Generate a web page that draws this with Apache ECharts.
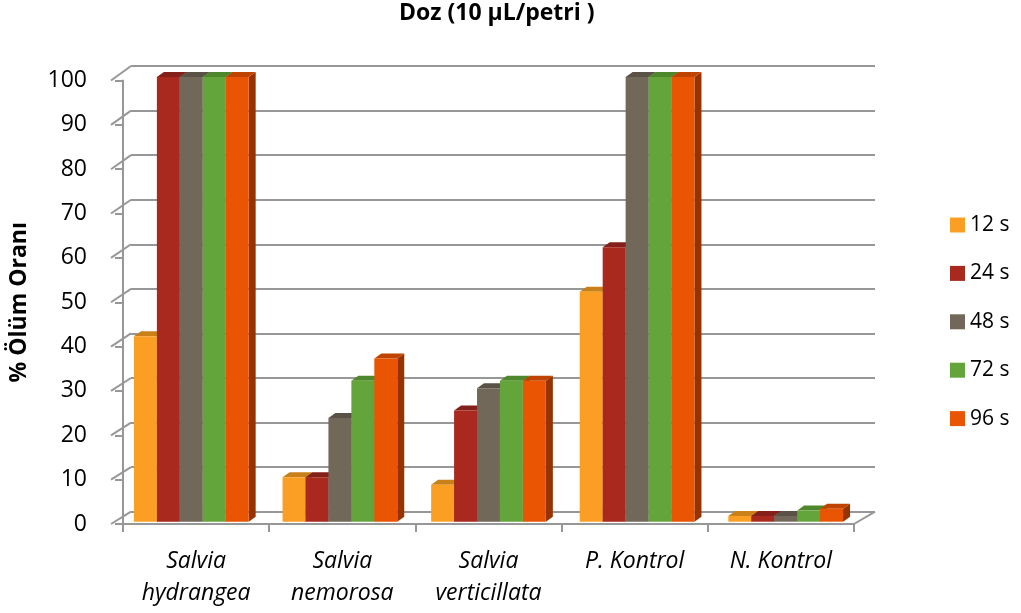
<!DOCTYPE html>
<html><head><meta charset="utf-8">
<script src="https://cdn.jsdelivr.net/npm/echarts@6/dist/echarts.min.js"></script>
<style>html,body{margin:0;padding:0;background:#fff}#c{width:1021px;height:613px}</style>
</head><body><div id="c"></div>
<script>
// ---- data ----
const categories = ['Salvia\nhydrangea', 'Salvia\nnemorosa', 'Salvia\nverticillata', 'P. Kontrol', 'N. Kontrol'];
const seriesNames = ['12 s', '24 s', '48 s', '72 s', '96 s'];
const s12 = [41.7, 10, 8.3, 51.7, 1.3];
const s24 = [100, 10, 25, 61.7, 1.3];
const s48 = [100, 23.3, 30, 100, 1.3];
const s72 = [100, 31.7, 31.7, 100, 2.5];
const s96 = [100, 36.7, 31.7, 100, 2.9];
const yTicks = [0, 10, 20, 30, 40, 50, 60, 70, 80, 90, 100];

// ---- style / layout ----
const FRONT_COL = ['#FB9F24', '#A9291F', '#72685A', '#64A53B', '#EA5504'];
const TOP_COL = ['#C98019', '#84201A', '#5A5147', '#4F882C', '#BF4402'];
const SIDE_COL = ['#B87418', '#7A1C15', '#4F473D', '#467A28', '#963300'];
const GRID_FRONT = {left: 111, top: 80.5, width: 743, height: 443.5};
const GRID_BAR = {left: 117, top: 77, width: 743, height: 444.7};
const GRID_BACK = {left: 131, top: 66, width: 744, height: 445.7};
const GROUP_RATIO = 0.772, DX = 7, DY = -5;
const LINE = {color: '#979797', width: 2};
const FONT = '"Open Sans", Lato, sans-serif';

const allSeries = [s12, s24, s48, s72, s96];

function makeRender(idx) {
  return function (params, api) {
    const cat = api.value(0), v = api.value(1);
    const base = api.coord([cat, 0]);
    const top = api.coord([cat, v]);
    const band = api.size([1, 0])[0];
    const group = band * GROUP_RATIO;
    const w = group / allSeries.length;
    const x0 = base[0] - group / 2 + idx * w;
    const yT = top[1], yB = base[1];
    return {
      type: 'group',
      children: [
        {type: 'polygon', shape: {points: [[x0 + w, yT], [x0 + w + DX, yT + DY], [x0 + w + DX, yB + DY], [x0 + w, yB]]}, style: {fill: SIDE_COL[idx]}},
        {type: 'polygon', shape: {points: [[x0, yT], [x0 + DX, yT + DY], [x0 + w + DX, yT + DY], [x0 + w, yT]]}, style: {fill: TOP_COL[idx]}},
        {type: 'rect', shape: {x: x0, y: yT, width: w, height: yB - yT}, style: {fill: FRONT_COL[idx]}}
      ]
    };
  };
}

const chart = echarts.init(document.getElementById('c'), null, {renderer: 'canvas'});
const option = {
  animation: false,
  backgroundColor: '#fff',
  title: {
    text: 'Doz (10 µL/petri )', left: 399, top: 2, padding: 0,
    textStyle: {fontFamily: FONT, fontWeight: 'bold', fontSize: 23, color: '#000'}
  },
  legend: {
    orient: 'vertical', left: 945, top: 209, itemWidth: 15, itemHeight: 15, itemGap: 26.4,
    icon: 'rect', data: seriesNames,
    textStyle: {fontFamily: FONT, fontSize: 21, color: '#000', lineHeight: 22}
  },
  grid: [
    Object.assign({}, GRID_FRONT),
    Object.assign({}, GRID_BAR),
    Object.assign({}, GRID_BACK)
  ],
  xAxis: [
    {
      gridIndex: 0, type: 'category', data: categories, boundaryGap: true,
      axisLine: {show: true, lineStyle: LINE},
      axisTick: {show: true, length: 8, inside: false, lineStyle: LINE},
      axisLabel: {interval: 0, margin: 21, fontFamily: FONT, fontStyle: 'italic', fontSize: 23, lineHeight: 32, color: '#000'},
      splitLine: {show: false}
    },
    {gridIndex: 1, type: 'category', data: categories, show: false},
    {gridIndex: 2, type: 'value', min: 0, max: 1, show: false}
  ],
  yAxis: [
    {
      gridIndex: 0, type: 'value', min: 0, max: 100, interval: 10,
      name: '% Ölüm Oranı', nameLocation: 'middle', nameRotate: 90, nameGap: 92,
      nameTextStyle: {fontFamily: FONT, fontWeight: 'bold', fontSize: 23, color: '#000'},
      axisLine: {show: true, lineStyle: LINE},
      axisTick: {show: true, length: 8, lineStyle: LINE},
      axisLabel: {margin: 36, fontFamily: FONT, fontSize: 23, color: '#000'},
      splitLine: {show: false}
    },
    {gridIndex: 1, type: 'value', min: 0, max: 100, interval: 10, show: false, splitLine: {show: false}},
    {
      gridIndex: 2, type: 'value', min: 0, max: 100, interval: 10,
      axisLine: {show: false}, axisTick: {show: false}, axisLabel: {show: false},
      splitLine: {show: true, lineStyle: LINE}
    }
  ],
  series: allSeries.map((arr, i) => ({
    type: 'custom', name: seriesNames[i], xAxisIndex: 1, yAxisIndex: 1,
    itemStyle: {color: FRONT_COL[i]},
    renderItem: makeRender(i),
    encode: {x: 0, y: 1},
    data: arr.map((v, c) => [c, v])
  }))
};
chart.setOption(option);

// Left wall diagonals and floor edge, located through the axes' scales
const graphics = [];
yTicks.forEach(v => {
  const yf = chart.convertToPixel({yAxisIndex: 0}, v);
  const yb = chart.convertToPixel({yAxisIndex: 2}, v);
  graphics.push({type: 'line', shape: {x1: GRID_FRONT.left, y1: yf, x2: GRID_BACK.left, y2: yb}, style: {stroke: LINE.color, lineWidth: LINE.width}, z: 1});
});
{
  const yf = chart.convertToPixel({yAxisIndex: 0}, 0);
  const yb = chart.convertToPixel({yAxisIndex: 2}, 0);
  graphics.push({type: 'line', shape: {x1: GRID_FRONT.left + GRID_FRONT.width, y1: yf, x2: GRID_BACK.left + GRID_BACK.width, y2: yb}, style: {stroke: LINE.color, lineWidth: LINE.width}, z: 1});
}
chart.setOption({graphic: graphics});
</script></body></html>
